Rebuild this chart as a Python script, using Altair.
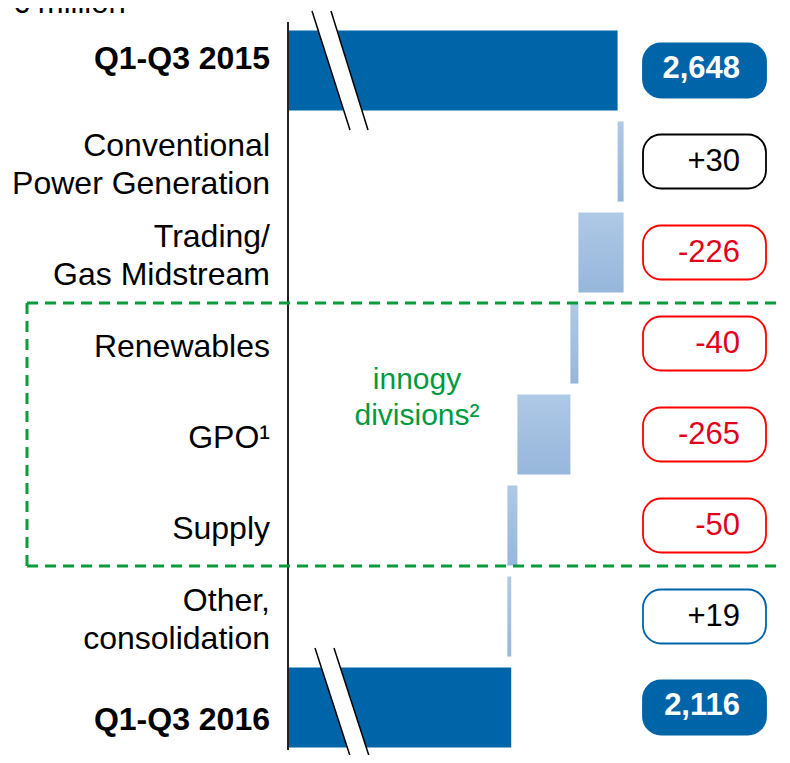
import altair as alt
import pandas as pd

# ---- data ----
categories = [
    "Q1-Q3 2015",
    "Conventional\nPower Generation",
    "Trading/\nGas Midstream",
    "Renewables",
    "GPO¹",
    "Supply",
    "Other,\nconsolidation",
    "Q1-Q3 2016",
]
values = [2648, 30, -226, -40, -265, -50, 19, 2116]
is_total = [True, False, False, False, False, False, False, True]

# ---- build waterfall table ----
rows = []
running = 0
for cat, v, tot in zip(categories, values, is_total):
    if tot:
        start, end = 0, v
        running = v
        label = f"{v:,}"
    else:
        start, end = running, running + v
        running = end
        label = f"{v:+d}"
    rows.append({"cat": cat, "start": start, "end": end, "label": label,
                 "total": tot, "multi": "\n" in cat})
df = pd.DataFrame(rows)

FONT = "Liberation Sans"
BLUE = "#0064A8"
GREEN = "#0A9B3C"
RED_TXT = "#E2001A"
RED_BORDER = "#FF0000"

box_stroke = {
    "Q1-Q3 2015": BLUE,
    "Conventional\nPower Generation": "#000000",
    "Trading/\nGas Midstream": RED_BORDER,
    "Renewables": RED_BORDER,
    "GPO¹": RED_BORDER,
    "Supply": RED_BORDER,
    "Other,\nconsolidation": BLUE,
    "Q1-Q3 2016": BLUE,
}
box_fill = {c: (BLUE if t else "#FFFFFF") for c, t in zip(categories, is_total)}
text_col = {c: ("#FFFFFF" if t else ("#000000" if v > 0 else RED_TXT))
            for c, v, t in zip(categories, values, is_total)}

xscale = alt.Scale(domain=[1000, 3470], range=[280, 774], clamp=True)
yscale = alt.Scale(domain=categories, range=[17, 745], paddingInner=0.12, paddingOuter=0.06)

base = alt.Chart(df)
Y = alt.Y("cat:N", scale=yscale, axis=None, sort=None)

totals = base.transform_filter("datum.total").mark_bar(color=BLUE).encode(
    y=Y,
    x=alt.X("start:Q", scale=xscale, axis=None),
    x2="end:Q",
)

grad = alt.Gradient(
    gradient="linear",
    stops=[alt.GradientStop(color="#AFC9E6", offset=0),
           alt.GradientStop(color="#96B6DB", offset=1)],
    x1=0, x2=0, y1=0, y2=1,
)
deltas = base.transform_filter("!datum.total").mark_bar(color=grad).encode(
    y=Y,
    x=alt.X("start:Q", scale=xscale, axis=None),
    x2="end:Q",
)

one = pd.DataFrame({"k": [0]})


def rule(x, y, x2, y2, color, width, dash=None, cap="butt"):
    kw = dict(color=color, strokeWidth=width, strokeCap=cap)
    if dash:
        kw["strokeDash"] = dash
    return alt.Chart(one).mark_rule(**kw).encode(
        x=alt.value(x), y=alt.value(y), x2=alt.value(x2), y2=alt.value(y2)
    )


# broken-axis symbols
breaks = [
    rule(313.5, 3, 351, 122, "white", 18),
    rule(304, 3, 342, 122, "black", 1.5),
    rule(323, 3, 360, 122, "black", 1.5),
    rule(316.5, 640, 353.5, 754, "white", 18),
    rule(307, 640, 344, 754, "black", 1.5),
    rule(326, 640, 363, 754, "black", 1.5),
]

axis_line = rule(280, 14, 280, 742, "#222222", 2)

dash = [11, 7]
green_box = [
    rule(19, 295, 774, 295, GREEN, 3, dash),
    rule(19, 558, 774, 558, GREEN, 3, dash),
    rule(19, 295, 19, 558, GREEN, 3, dash),
]

boxes = base.mark_bar(size=54, cornerRadius=18, strokeWidth=1.8).encode(
    y=Y,
    x=alt.value(635),
    x2=alt.value(758),
    fill=alt.Fill("cat:N", scale=alt.Scale(domain=categories, range=[box_fill[c] for c in categories]), legend=None),
    stroke=alt.Stroke("cat:N", scale=alt.Scale(domain=categories, range=[box_stroke[c] for c in categories]), legend=None),
)

box_text_tot = base.transform_filter("datum.total").mark_text(
    align="right", baseline="middle", font=FONT, fontSize=31, fontWeight="bold", color="white", dy=-2
).encode(y=Y, x=alt.value(732), text="label:N")

box_text_delta = base.transform_filter("!datum.total").mark_text(
    align="right", baseline="middle", font=FONT, fontSize=31, dy=0
).encode(
    y=Y, x=alt.value(732), text="label:N",
    color=alt.Color("cat:N", scale=alt.Scale(domain=categories, range=[text_col[c] for c in categories]), legend=None),
)

lab_single = base.transform_filter("!datum.total && !datum.multi").mark_text(
    align="right", baseline="middle", font=FONT, fontSize=32, color="black", dy=3
).encode(y=Y, x=alt.value(262), text="cat:N")

lab_multi = base.transform_filter("datum.multi").mark_text(
    align="right", baseline="middle", font=FONT, fontSize=32, lineHeight=38, lineBreak="\n",
    color="black", dy=-16
).encode(y=Y, x=alt.value(262), text="cat:N")

lab15 = base.transform_filter("datum.cat == 'Q1-Q3 2015'").mark_text(
    align="right", baseline="middle", font=FONT, fontSize=32, fontWeight="bold", color="black", dy=-12
).encode(y=Y, x=alt.value(262), text="cat:N")

lab16 = base.transform_filter("datum.cat == 'Q1-Q3 2016'").mark_text(
    align="right", baseline="middle", font=FONT, fontSize=32, fontWeight="bold", color="black", dy=12
).encode(y=Y, x=alt.value(262), text="cat:N")

innogy = alt.Chart(one).mark_text(
    align="center", baseline="middle", font=FONT, fontSize=30, lineHeight=36,
    lineBreak="\n", color="#009A3E"
).encode(x=alt.value(409), y=alt.value(372), text=alt.value("innogy\ndivisions²"))

unit = alt.Chart(one).mark_text(
    align="left", baseline="alphabetic", font=FONT, fontSize=31, color="black"
).encode(x=alt.value(4), y=alt.value(5), text=alt.value("€ million"))

chart = alt.layer(
    totals, deltas, *breaks, axis_line, *green_box, boxes,
    box_text_tot, box_text_delta, lab_single, lab_multi, lab15, lab16, innogy, unit,
).properties(
    width=774, height=747, padding=0, autosize="none", background="white"
).configure_view(stroke=None)

chart.save("out.html", embed_options={"renderer": "svg", "actions": False})
